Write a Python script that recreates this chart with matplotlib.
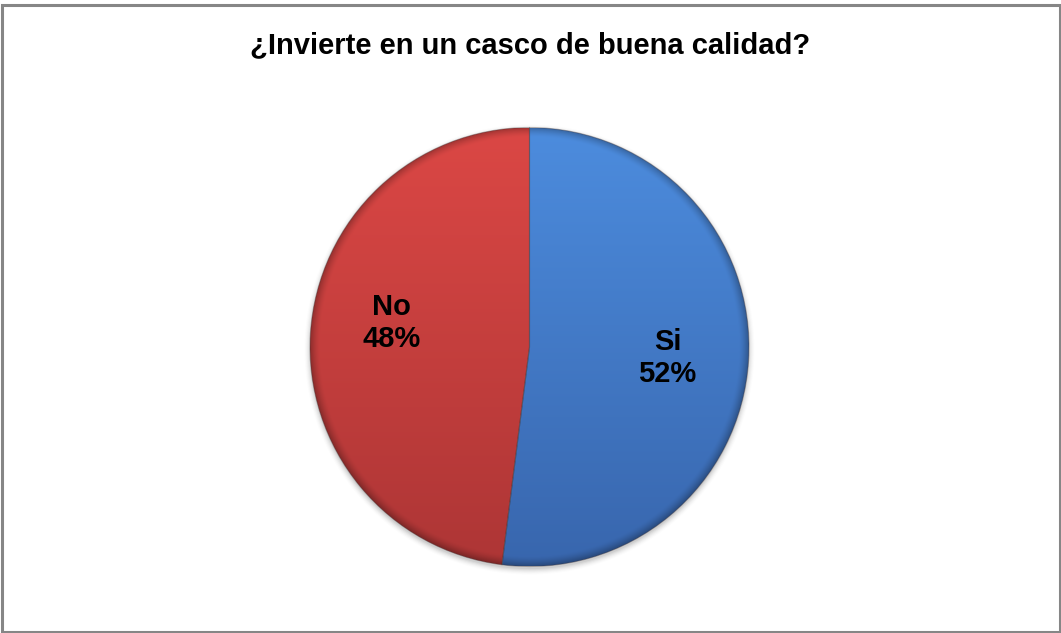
import numpy as np
import matplotlib
matplotlib.use("Agg")
import matplotlib.pyplot as plt
from matplotlib.patches import Rectangle, Circle

title = "¿Invierte en un casco de buena calidad?"
categories = ["No", "Si"]
values = [48, 52]
# top / bottom colours of each slice's vertical gradient
top_colors = [(0.86, 0.28, 0.27), (0.30, 0.55, 0.87)]
bottom_colors = [(0.68, 0.21, 0.21), (0.22, 0.40, 0.68)]

W, H, DPI = 1061, 633, 100
fig = plt.figure(figsize=(W / DPI, H / DPI), dpi=DPI)
fig.patch.set_facecolor("white")

# chart-area frame
fig.add_artist(Rectangle((1.5 / W, 1.5 / H), (W - 3) / W, (H - 6.5) / H,
                         transform=fig.transFigure, fill=False,
                         edgecolor="#868686", linewidth=2.2))

fig.text(530 / W, 1 - 45 / H, title, ha="center", va="center",
         fontsize=21, fontweight="bold", family=["Liberation Sans", "DejaVu Sans"])

cx, cy, r = 529.5, 347, 219.5
ax = fig.add_axes([(cx - r) / W, (H - cy - r) / H, 2 * r / W, 2 * r / H])

wedges, _ = ax.pie(values, startangle=90, counterclock=True, radius=1.0,
                   colors=["none", "none"], wedgeprops=dict(linewidth=0))
ax.set_xlim(-1.0, 1.0)
ax.set_ylim(-1.0, 1.0)
ax.set_aspect("equal")
ax.axis("off")

# soft shadow under the pie
for i, a in enumerate(np.linspace(0.05, 0.012, 6)):
    ax.add_patch(Circle((0.0, -0.012), 1.0 + 0.005 * i, color="black",
                        alpha=a, lw=0, zorder=0, clip_on=False))

n = 700
xs = np.linspace(-1, 1, n)
X, Y = np.meshgrid(xs, xs[::-1])
R = np.hypot(X, Y)
t = (1 - Y) / 2  # 0 at top, 1 at bottom
rim = np.clip((R - 0.955) / 0.045, 0, 1)
shade = 1 - 0.28 * rim ** 1.5
for w, ctop, cbot in zip(wedges, top_colors, bottom_colors):
    img = np.zeros((n, n, 3))
    for k in range(3):
        img[..., k] = (ctop[k] * (1 - t) + cbot[k] * t) * shade
    im = ax.imshow(np.clip(img, 0, 1), extent=[-1, 1, -1, 1], zorder=2,
                   interpolation="bilinear")
    im.set_clip_path(w)
    w.set_zorder(3)
    w.set_edgecolor((0.25, 0.2, 0.2, 0.35))
    w.set_linewidth(0.8)
ax.set_xlim(-1.0, 1.0)
ax.set_ylim(-1.0, 1.0)

# data labels placed inside each slice
angles = []
start = 90.0
total = float(sum(values))
for v in values:
    span = 360.0 * v / total
    angles.append(np.deg2rad(start + span / 2))
    start += span
offsets = [(0.0, 0.07), (0.0, -0.01)]
for cat, v, ang, (ox, oy) in zip(categories, values, angles, offsets):
    d = 0.63
    ax.text(d * np.cos(ang) + ox, d * np.sin(ang) + oy, f"{cat}\n{v}%",
            ha="center", va="center", fontsize=21, fontweight="bold",
            linespacing=1.2, family=["Liberation Sans", "DejaVu Sans"],
            zorder=5)

fig.savefig("out.png", dpi=DPI)
